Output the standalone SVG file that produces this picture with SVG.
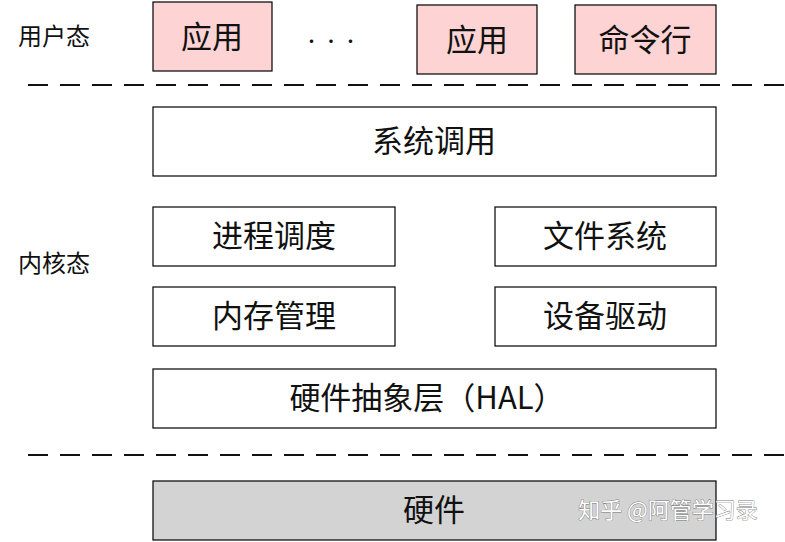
<svg xmlns="http://www.w3.org/2000/svg" width="785" height="542" viewBox="0 0 785 542">
<style>
.b{stroke:#000;stroke-width:1.2;fill:#fff}
.p{fill:#fdd3d3}
.g{fill:#d3d3d3}
text{font-family:"Noto Sans CJK SC","Noto Sans",sans-serif;fill:#111;text-anchor:middle;dominant-baseline:central}
.t{font-size:31px}
.l{font-size:24px;text-anchor:start}
.d{stroke:#111;stroke-width:2;stroke-dasharray:20 12}
</style>
<rect width="785" height="542" fill="#fff"/>
<text class="l" x="18" y="34">用户态</text>
<text class="l" x="18" y="261">内核态</text>
<g id="app1"><rect class="b p" x="153" y="2" width="119" height="69"/><text class="t" x="212" y="34">应用</text></g>
<text x="331" y="40" style="font-size:16px">·  ·  ·</text>
<g id="app2"><rect class="b p" x="417" y="5" width="120" height="69"/><text class="t" x="477" y="37">应用</text></g>
<g id="cli"><rect class="b p" x="575" y="5" width="141" height="69"/><text class="t" x="645" y="37">命令行</text></g>
<g id="lines"><line class="d" x1="28" y1="85" x2="785" y2="85"/><line class="d" x1="28" y1="455" x2="785" y2="455"/></g>
<g id="syscall"><rect class="b" x="153" y="107" width="563" height="69"/><text class="t" x="434" y="138">系统调用</text></g>
<g id="sched"><rect class="b" x="153" y="207" width="242" height="59"/><text class="t" x="274" y="233">进程调度</text></g>
<g id="fs"><rect class="b" x="495" y="207" width="221" height="59"/><text class="t" x="605" y="233">文件系统</text></g>
<g id="mem"><rect class="b" x="153" y="287" width="242" height="59"/><text class="t" x="274" y="313">内存管理</text></g>
<g id="drv"><rect class="b" x="495" y="287" width="221" height="59"/><text class="t" x="605" y="313">设备驱动</text></g>
<g id="hal"><rect class="b" x="153" y="369" width="563" height="59"/><text class="t" x="427" y="395">硬件抽象层（HAL）</text></g>
<g id="hw"><rect class="b g" x="153" y="481" width="563" height="59"/><text class="t" x="434" y="507">硬件</text></g>
<text x="668" y="508" style="font-size:22px;fill:#fff;stroke:#777;stroke-width:0.8;paint-order:stroke">知乎 @阿管学习录</text>
</svg>
